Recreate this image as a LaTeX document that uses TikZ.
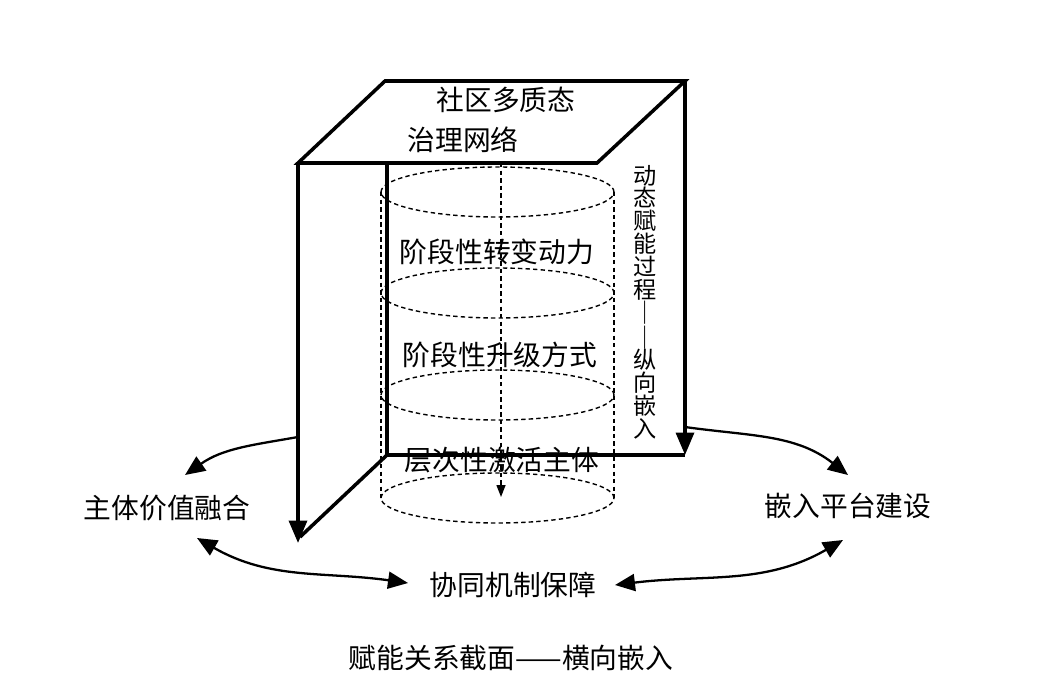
\documentclass[tikz,border=0pt]{standalone}
\usepackage{fontspec}
\newfontfamily\cjk{Noto Sans CJK SC}
\usepackage{tikz}
\usetikzlibrary{arrows.meta,calc}

\begin{document}
\begin{tikzpicture}[x=0.02cm,y=0.02cm,
caja/.style={line width=2pt},
cil/.style={dash pattern=on 2.5pt off 1.8pt,line width=0.8pt},
flecha/.style={-{Triangle[length=4.5mm,width=3.6mm]},line width=2pt},
arr/.style={-{Triangle[length=4mm,width=3.4mm]},line width=1.3pt},
darr/.style={{Triangle[length=4mm,width=3.4mm]}-{Triangle[length=4mm,width=3.4mm]},line width=1.3pt},
txt/.style={font=\cjk\fontsize{15.8}{18}\selectfont,inner sep=0pt},
vtxt/.style={font=\cjk\fontsize{13.2}{13}\selectfont,align=center,inner sep=0pt}
]
\useasboundingbox (0,0) rectangle (1057,691);

\draw[cil] (497.5,499) ellipse (116.5 and 25);
\draw[cil] (497.5,398) ellipse (116.5 and 25);
\draw[cil] (497.5,296) ellipse (116.5 and 25);
\draw[cil] (497.5,193) ellipse (116.5 and 25);
\draw[cil] (381,499) -- (381,193);
\draw[cil] (614,499) -- (614,193);
\draw[cil,-{Triangle[length=2.4mm,width=1.8mm]}] (501,528) -- (501,194);

\coordinate (A) at (385,610);
\coordinate (B) at (685,610);
\coordinate (C) at (597,528);
\coordinate (D) at (298,528);
\coordinate (E) at (387,528);
\coordinate (F) at (387,236);
\coordinate (G) at (298,148);
\coordinate (H) at (685,236);
\draw[caja] (A) -- (B) -- (C) -- (D) -- cycle;
\draw[flecha] (D) -- (G);
\draw[caja] (E) -- (F) -- ($(G)+(2,6)$);
\draw[caja] (F) -- (H);
\draw[flecha] (B) -- (H);

\node[txt] (sq1) at (506,591) {社区多质态};
\node[txt] (sq2) at (463,551) {治理网络};
\node[txt] (l1) at (497,439) {阶段性转变动力};
\node[txt] (l2) at (500,336) {阶段性升级方式};
\node[txt] (l3) at (502,231) {层次性激活主体};
\node[vtxt] (vt) at (645,389) {动\\态\\赋\\能\\过\\程\\｜\\｜\\纵\\向\\嵌\\入};
\node[txt] (zt) at (167,183) {主体价值融合};
\node[txt] (qr) at (848,185) {嵌入平台建设};
\node[txt] (xt) at (513,106) {协同机制保障};
\node[txt] (cap) at (511,33) {赋能关系截面——横向嵌入};

\coordinate (lm) at (298,254);
\coordinate (rm) at (685,264);
\draw[arr] (lm) to[out=190,in=35] ($(zt)+(18,33)$);
\draw[arr] (rm) to[out=-8,in=142] ($(qr)+(0,31)$);
\draw[darr] ($(zt)+(30,-30)$) to[out=-30,in=172] ($(xt)+(-105,2)$);
\draw[darr] ($(xt)+(102,0)$) to[out=7,in=210] ($(qr)+(-5,-34)$);
\end{tikzpicture}
\end{document}
